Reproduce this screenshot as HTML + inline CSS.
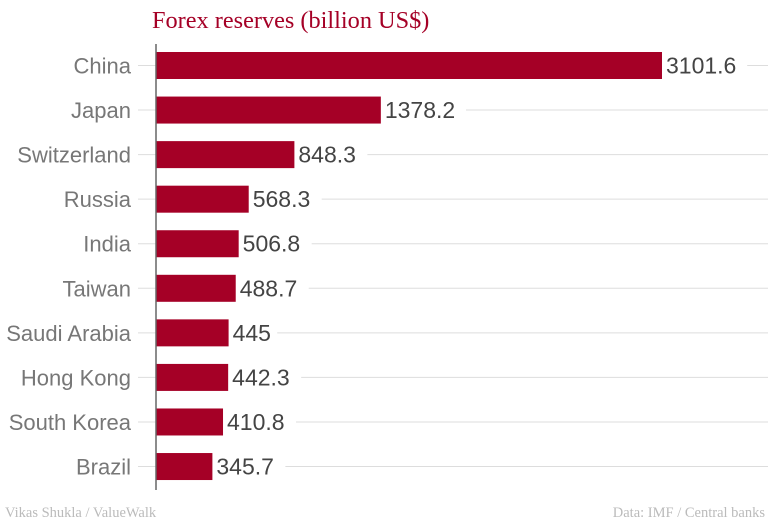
<!DOCTYPE html>
<html><head><meta charset="utf-8"><style>
html,body{margin:0;padding:0;background:#fff;}
svg{display:block;}
</style></head><body>
<svg id="chart" width="768" height="522" xmlns="http://www.w3.org/2000/svg">
<text x="152" y="28" font-family="Liberation Serif, serif" font-size="24.3" fill="#a50026">Forex reserves (billion US$)</text>
<g id="grid"></g>
<g id="bars"></g>
<line x1="156" y1="44" x2="156" y2="490" stroke="#666" stroke-width="1.5"/>
<text x="5" y="517" font-family="Liberation Serif, serif" font-size="14.5" fill="#bbb">Vikas Shukla / ValueWalk</text>
<text x="765" y="517" text-anchor="end" font-family="Liberation Serif, serif" font-size="14.5" fill="#bbb">Data: IMF / Central banks</text>
</svg>
<script>
const categories = ["China","Japan","Switzerland","Russia","India","Taiwan","Saudi Arabia","Hong Kong","South Korea","Brazil"];
const values = [3101.6,1378.2,848.3,568.3,506.8,488.7,445,442.3,410.8,345.7];
const valueLabels = ["3101.6","1378.2","848.3","568.3","506.8","488.7","445","442.3","410.8","345.7"];
const NS="http://www.w3.org/2000/svg";
const x0=156, xMaxPx=662, maxV=3101.6;
function xScale(v){return x0+(v/maxV)*(xMaxPx-x0);}
function yCenter(i){return 65.5+i*44.56;}
const grid=document.getElementById('grid'), bars=document.getElementById('bars');
function mk(tag,attrs,parent){const e=document.createElementNS(NS,tag);for(const k in attrs)e.setAttribute(k,attrs[k]);parent.appendChild(e);return e;}
categories.forEach((c,i)=>{
  const y=yCenter(i), xe=xScale(values[i]);
  const tick=mk('line',{x1:138,y1:y,x2:156,y2:y,stroke:'#ddd','stroke-width':1},grid);
  
  
  const labW=valueLabels[i].length*12.2;
  const gl=mk('line',{x1:xe+labW+12,y1:y,x2:768,y2:y,stroke:'#ddd','stroke-width':1},grid);
  
  
  const lab=mk('text',{x:131,y:y+8,'text-anchor':'end','font-family':'Liberation Sans, sans-serif','font-size':22,fill:'#777'},grid);
  lab.textContent=c;
  
  
  const r=mk('rect',{x:x0,y:y-13.5,width:xe-x0,height:27,fill:'#a50026'},bars);
  
  
  const vt=mk('text',{x:xe+4,y:y+8,'font-family':'Liberation Sans, sans-serif','font-size':23,fill:'#444'},bars);
  vt.textContent=valueLabels[i];
  
  
});
</script>
</body></html>
